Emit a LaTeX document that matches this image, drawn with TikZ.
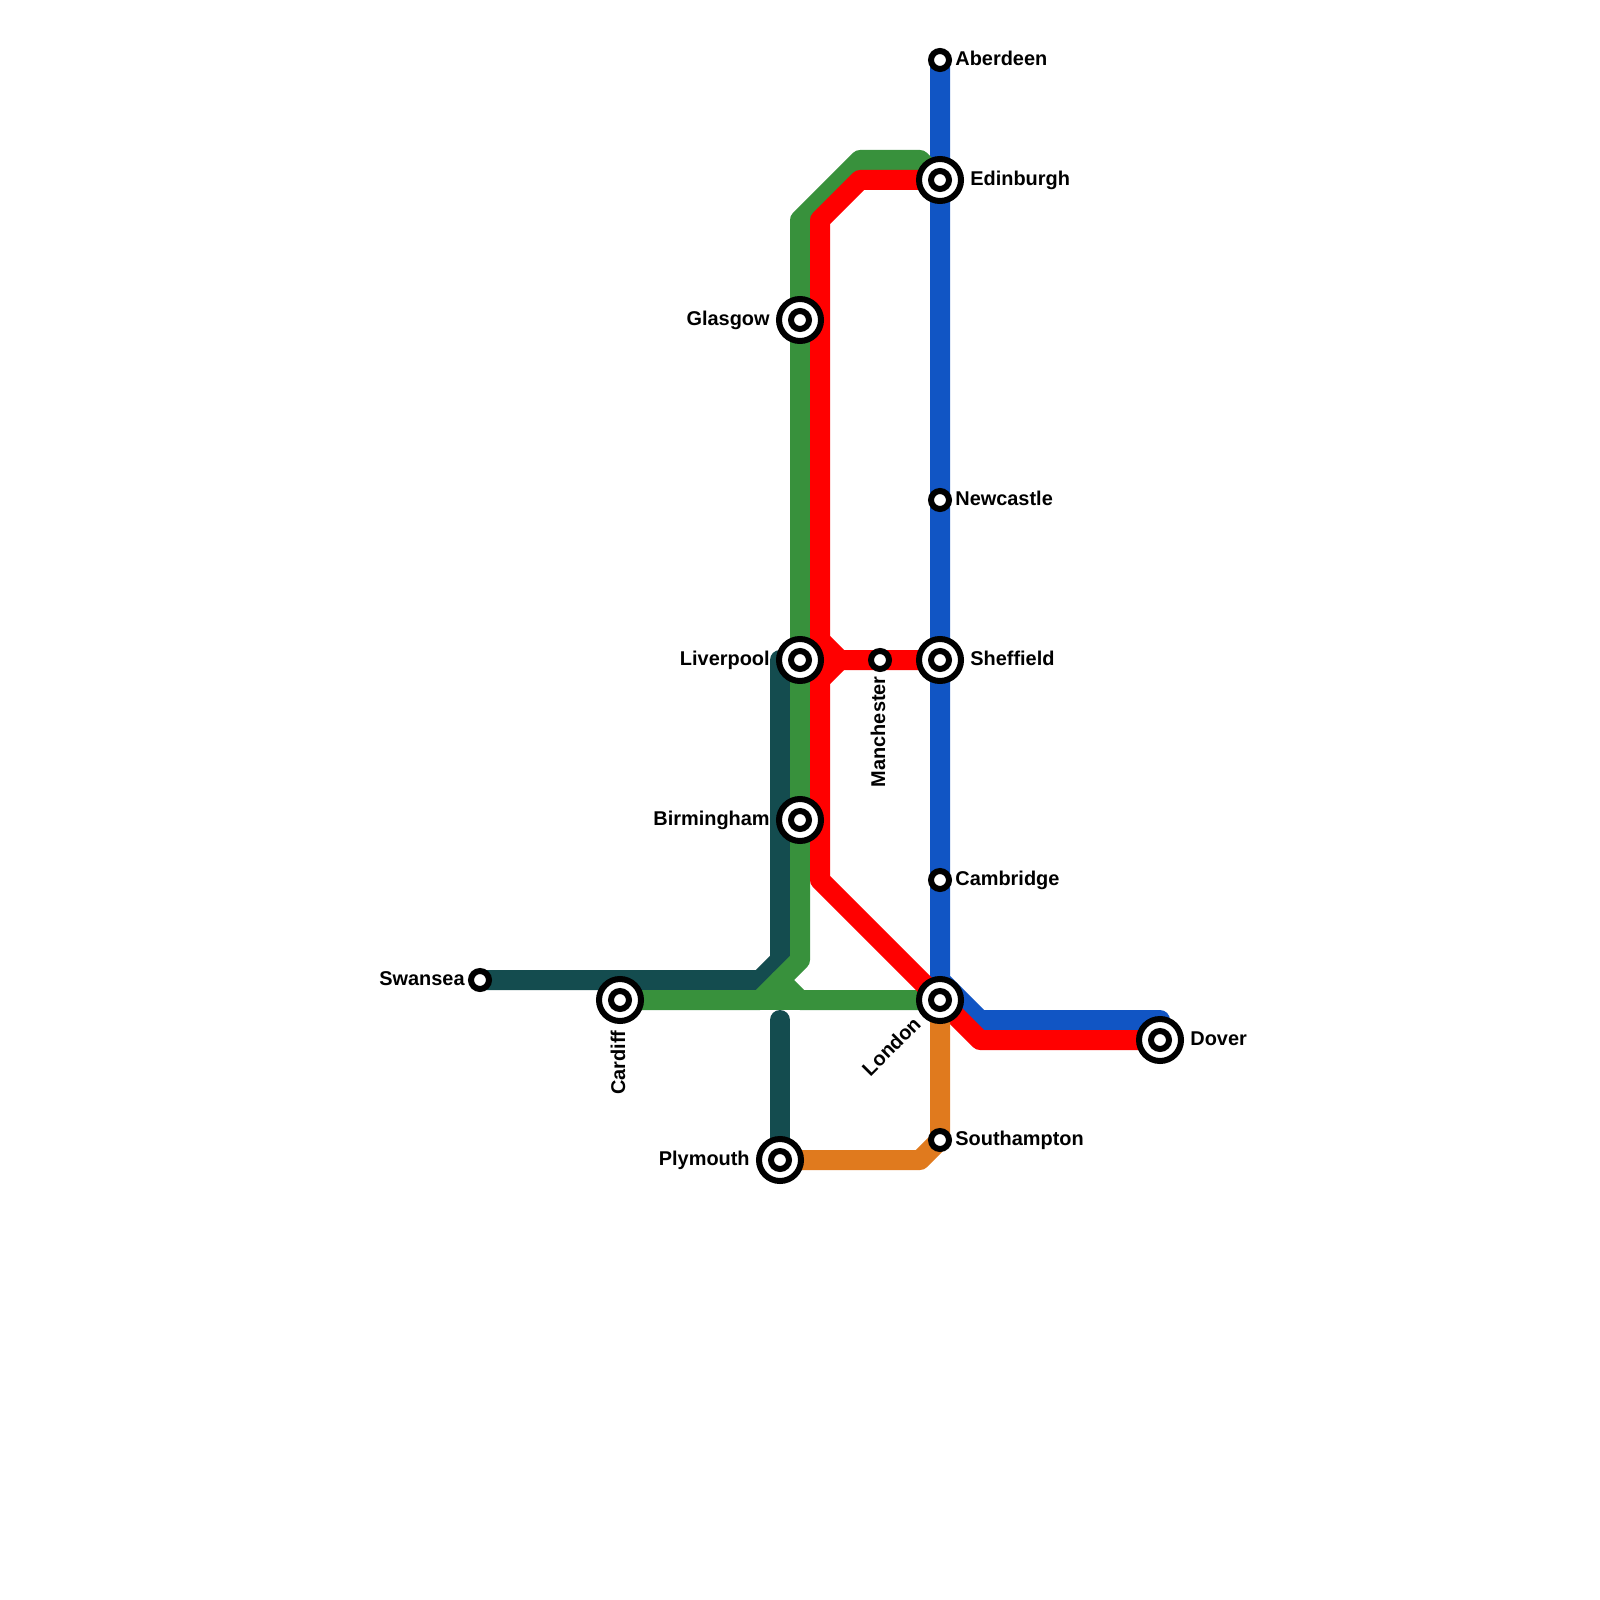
\documentclass[tikz,border=0pt]{standalone}
\usepackage{fontspec}
\setmainfont{Liberation Sans}
\usepackage{xcolor}
\usepackage{tikz}
\usetikzlibrary{calc}
\definecolor{linegreen}{HTML}{38913C}
\definecolor{linered}{HTML}{FF0000}
\definecolor{lineblue}{HTML}{1155C4}
\definecolor{lineteal}{HTML}{144C4F}
\definecolor{lineorange}{HTML}{E07A1E}
\pgfdeclarelayer{lines}
\pgfsetlayers{lines,main}
\tikzset{
  metro/.style={line width=.4cm,line join=round,line cap=round},
  stop/.style={circle,draw=black,fill=white,line width=.12cm,minimum size=.36cm,inner sep=0pt},
  ring/.style={circle,draw=black,fill=white,line width=.12cm,minimum size=.84cm,inner sep=0pt},
  lbl/.style={inner sep=0pt,font=\bfseries\fontsize{11.34}{13}\selectfont},
  eastlbl/.style={lbl,anchor=mid west},
  westlbl/.style={lbl,anchor=mid east}
}
\begin{document}
\begin{tikzpicture}[x=.4cm,y=-.4cm]
\useasboundingbox (0,0) rectangle (80,80);
\foreach \name/\x/\y in {edinburgh/47/9,glasgow/40/16,sheffield/47/33,liverpool/40/33,birmingham/40/41,london/47/50,dover/58/52,plymouth/39/58,cardiff/31/50} {
  \node[ring] (\name-ring) at (\x,\y) {};
  \node[stop] (\name) at (\x,\y) {};
}
\foreach \name/\x/\y in {aberdeen/47/3,newcastle/47/25,manchester/44/33,cambridge/47/44,southampton/47/57,swansea/24/49} {
  \node[stop] (\name) at (\x,\y) {};
}
\node[eastlbl] (aberdeen-lbl) at ($(aberdeen)+(.75,.05)$) {Aberdeen};
\node[eastlbl] (edinburgh-lbl) at ($(edinburgh)+(1.5,.05)$) {Edinburgh};
\node[westlbl] (glasgow-lbl) at ($(glasgow)+(-1.5,.05)$) {Glasgow};
\node[eastlbl] (newcastle-lbl) at ($(newcastle)+(.75,.05)$) {Newcastle};
\node[eastlbl] (sheffield-lbl) at ($(sheffield)+(1.5,.05)$) {Sheffield};
\node[westlbl] (liverpool-lbl) at ($(liverpool)+(-1.5,.05)$) {Liverpool};
\node[lbl,rotate=90,anchor=mid east] (manchester-lbl) at ($(manchester)+(.02,.8)$) {Manchester};
\node[westlbl] (birmingham-lbl) at ($(birmingham)+(-1.5,.05)$) {Birmingham};
\node[eastlbl] (cambridge-lbl) at ($(cambridge)+(.75,.05)$) {Cambridge};
\node[lbl,rotate=45,anchor=mid east] (london-lbl) at ($(london)+(-1.05,1.1)$) {London};
\node[eastlbl] (dover-lbl) at ($(dover)+(1.5,.05)$) {Dover};
\node[eastlbl] (southampton-lbl) at ($(southampton)+(.75,.05)$) {Southampton};
\node[westlbl] (plymouth-lbl) at ($(plymouth)+(-1.5,.05)$) {Plymouth};
\node[westlbl] (swansea-lbl) at ($(swansea)+(-.75,.05)$) {Swansea};
\node[lbl,rotate=90,anchor=mid east] (cardiff-lbl) at ($(cardiff)+(.02,1.5)$) {Cardiff};
\coordinate (bluebend) at (47,49); \coordinate (bluelow) at (49,51); \coordinate (blueend) at (58,51);
\coordinate (greentop) at (46,8); \coordinate (greenleft) at (43,8); \coordinate (greenturn) at (40,11);
\coordinate (greenfoot) at (40,48); \coordinate (greenwest) at (38,50);
\coordinate (greenfork) at (39,49); \coordinate (greeneast) at (40,50);
\coordinate (redtop) at (43,9); \coordinate (redturn) at (41,11);
\coordinate (redup) at (41,32); \coordinate (redhub) at (42,33); \coordinate (reddown) at (41,34);
\coordinate (redfoot) at (41,44); \coordinate (redlow) at (49,52);
\coordinate (tealwest) at (38,49); \coordinate (tealfoot) at (39,48); \coordinate (tealtop) at (39,33); \coordinate (tealstub) at (39,51);
\coordinate (orangefoot) at (46,58);
\begin{pgfonlayer}{lines}
\draw[metro,lineblue] (aberdeen.center)--(bluebend)--(bluelow)--(blueend)--(dover.center);
\draw[metro,lineteal] (swansea.center)--(tealwest)--(tealfoot)--(tealtop);
\draw[metro,lineteal] (tealstub)--(plymouth.center);
\draw[metro,linegreen] (edinburgh.center)--(greentop)--(greenleft)--(greenturn)--(greenfoot)--(greenwest)--(cardiff.center);
\draw[metro,linegreen] (greenfork)--(greeneast)--(london.center);
\draw[metro,linegreen] (greenwest)--(greeneast);
\draw[metro,linered] (edinburgh.center)--(redtop)--(redturn)--(redfoot)--(redlow)--(dover.center);
\draw[metro,linered] (redup)--(redhub)--(sheffield.center);
\draw[metro,linered] (reddown)--(redhub);
\draw[metro,lineorange] (london.center)--(southampton.center)--(orangefoot)--(plymouth.center);
\end{pgfonlayer}
\end{tikzpicture}
\end{document}
